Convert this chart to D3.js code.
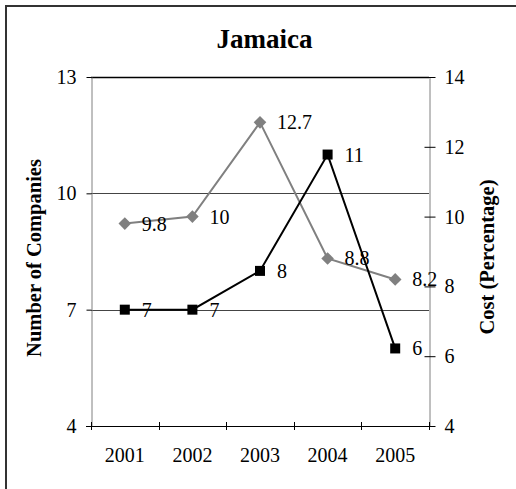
<!DOCTYPE html>
<html><head><meta charset="utf-8">
<script src="https://cdn.jsdelivr.net/npm/d3@7"></script>
<style>
html,body{margin:0;padding:0;background:#fff;}
svg{display:block;font-family:"Liberation Serif","Times New Roman",serif;}
</style></head>
<body>
<script>
const years = ["2001","2002","2003","2004","2005"];
const companies = [7, 7, 8, 11, 6];
const cost = [9.8, 10, 12.7, 8.8, 8.2];
const leftTicks = [4, 7, 10, 13];
const rightTicks = [4, 6, 8, 10, 12, 14];
const titleText = "Jamaica";
const leftTitle = "Number of Companies";
const rightTitle = "Cost (Percentage)";

const W = 516, H = 489;
const m = {left: 91, right: 429, top: 77, bottom: 426};
const FONT = "Liberation Serif, Times New Roman, serif";
const FS = 20;
const svg = d3.select("body").append("svg").attr("width", W).attr("height", H);

svg.append("rect").attr("x", 6).attr("y", 6).attr("width", 530).attr("height", 520)
  .attr("fill", "none").attr("stroke", "#333").attr("stroke-width", 2);

const x = d3.scaleBand().domain(years).range([m.left, m.right]).padding(0);
const yL = d3.scaleLinear().domain([4, 13]).range([m.bottom, m.top]);
const yR = d3.scaleLinear().domain([4, 14]).range([m.bottom, m.top]);
const cx = d => x(d) + x.bandwidth() / 2;

// title
svg.append("text").attr("x", 264.5).attr("y", 48).attr("text-anchor", "middle")
  .attr("font-size", 27).attr("font-weight", "bold").text(titleText);

// gridlines
svg.append("g").selectAll("line").data(leftTicks.filter(t => t > 4)).join("line")
  .attr("x1", m.left).attr("x2", m.right)
  .attr("y1", d => Math.round(yL(d)) + 0.5).attr("y2", d => Math.round(yL(d)) + 0.5)
  .attr("stroke", d => d === 13 ? "#000" : "#444").attr("stroke-width", d => d === 13 ? 1.5 : 1);

// left axis
const gL = svg.append("g").attr("transform", `translate(${m.left + 0.5},0)`)
  .call(d3.axisLeft(yL).tickValues(leftTicks).tickSize(5).tickPadding(10).tickSizeOuter(0));
gL.select(".domain").attr("stroke", "#808080");
gL.selectAll(".tick line").attr("stroke", "#000");
gL.selectAll("text").attr("font-size", FS).attr("font-family", FONT).attr("fill", "#000");

// right axis
const gR = svg.append("g").attr("transform", `translate(${m.right + 0.5},0)`)
  .call(d3.axisRight(yR).tickValues(rightTicks).tickSize(6).tickPadding(9).tickSizeOuter(0));
gR.select(".domain").attr("stroke", "#808080");
gR.selectAll(".tick line").attr("x1", -5).attr("stroke", "#000");
gR.selectAll("text").attr("font-size", FS).attr("font-family", FONT).attr("fill", "#000");

// bottom axis
const gB = svg.append("g").attr("transform", `translate(0,${m.bottom + 0.5})`)
  .call(d3.axisBottom(x).tickSize(0).tickPadding(21));
gB.select(".domain").attr("stroke", "#000").attr("d", `M${m.left - 5},0H${m.right}`);
gB.selectAll("text").attr("font-size", FS).attr("font-family", FONT).attr("fill", "#000");
const bounds = years.map(y => x(y)).concat([m.right]);
svg.append("g").selectAll("line").data(bounds).join("line")
  .attr("x1", d => Math.round(d) + 0.5).attr("x2", d => Math.round(d) + 0.5)
  .attr("y1", m.bottom - 4).attr("y2", m.bottom + 4).attr("stroke", "#000");

// axis titles
svg.append("text").attr("transform", `translate(34,258) rotate(-90)`)
  .attr("text-anchor", "middle").attr("dominant-baseline", "central")
  .attr("font-size", 20.5).attr("font-weight", "bold").text(leftTitle);
svg.append("text").attr("transform", `translate(487,257) rotate(-90)`)
  .attr("text-anchor", "middle").attr("dominant-baseline", "central")
  .attr("font-size", 20.5).attr("font-weight", "bold").text(rightTitle);

// gray cost series
const lineR = d3.line().x((d, i) => cx(years[i])).y(d => yR(d));
svg.append("path").datum(cost).attr("d", lineR).attr("fill", "none")
  .attr("stroke", "#808080").attr("stroke-width", 2);
svg.append("g").selectAll("path").data(cost).join("path")
  .attr("transform", (d, i) => `translate(${cx(years[i])},${yR(d)})`)
  .attr("d", "M0,-6.3L6.3,0L0,6.3L-6.3,0Z").attr("fill", "#808080");

// black companies series
const lineL = d3.line().x((d, i) => cx(years[i])).y(d => yL(d));
svg.append("path").datum(companies).attr("d", lineL).attr("fill", "none")
  .attr("stroke", "#000").attr("stroke-width", 2);
svg.append("g").selectAll("rect").data(companies).join("rect")
  .attr("x", (d, i) => cx(years[i]) - 5).attr("y", d => yL(d) - 5)
  .attr("width", 10).attr("height", 10).attr("fill", "#000");

// labels
svg.append("g").selectAll("text").data(cost).join("text")
  .attr("x", (d, i) => cx(years[i]) + 17).attr("y", d => yR(d))
  .attr("dominant-baseline", "central").attr("font-size", FS).text(d => d);
svg.append("g").selectAll("text").data(companies).join("text")
  .attr("x", (d, i) => cx(years[i]) + 17).attr("y", d => yL(d))
  .attr("dominant-baseline", "central").attr("font-size", FS).text(d => d);
</script>
</body></html>
